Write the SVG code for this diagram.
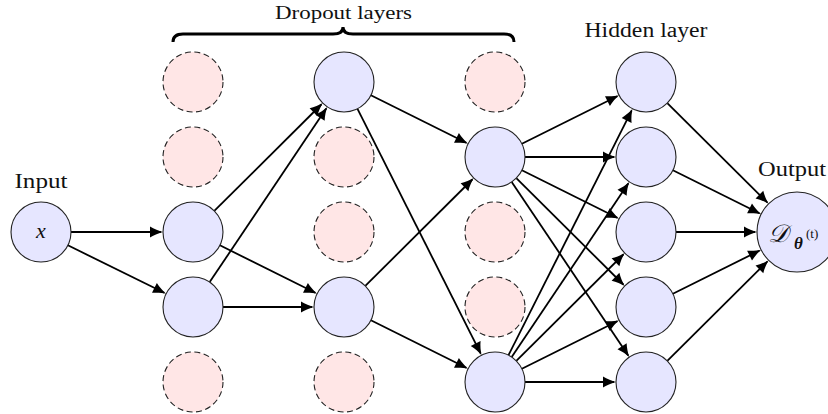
<svg xmlns="http://www.w3.org/2000/svg" width="828" height="414" viewBox="0 0 828 414">
<style>
.n{fill:#e6e6ff;stroke:#222;stroke-width:1.1}
.d{fill:#ffe6e6;stroke:#222;stroke-width:1.1;stroke-dasharray:6 3.5}
.e{stroke:#000;stroke-width:1.8;fill:none;marker-end:url(#ah)}
.t{font-family:"Liberation Serif","Times New Roman","DejaVu Serif",serif;fill:#111}
</style>
<defs>
<marker id="ah" markerUnits="userSpaceOnUse" viewBox="0 -6 14 12" markerWidth="14" markerHeight="12" refX="11" refY="0" orient="auto" overflow="visible">
<path d="M0,-5.5 C4,-3 9,-1 13,0 C9,1 4,3 0,5.5 z" fill="#000"/>
</marker>
</defs>
<rect width="828" height="414" fill="#fff"/>
<g id="brace">
<path d="M173,42 Q173,34 183,34 L333,34 Q343,34 343,27 Q343,34 353,34 L504,34 Q514,34 514,42" fill="none" stroke="#000" stroke-width="3"/>
<text class="t" x="343.5" y="19" font-size="18" text-anchor="middle" textLength="137" lengthAdjust="spacingAndGlyphs">Dropout layers</text>
</g>
<g id="labels">
<text class="t" x="41" y="188" font-size="20" text-anchor="middle" textLength="53" lengthAdjust="spacingAndGlyphs">Input</text>
<text class="t" x="646" y="37" font-size="20" text-anchor="middle" textLength="123" lengthAdjust="spacingAndGlyphs">Hidden layer</text>
<text class="t" x="758" y="176" font-size="20" textLength="68" lengthAdjust="spacingAndGlyphs">Output</text>
</g>
<g id="connectors">
<line class="e" x1="71" y1="232" x2="161" y2="232"/>
<line class="e" x1="67.9" y1="245.3" x2="164.3" y2="292.8"/>
<line class="e" x1="214.3" y1="210.9" x2="321.3" y2="104.5"/>
<line class="e" x1="219.9" y1="245.3" x2="315.3" y2="292.8"/>
<line class="e" x1="209.7" y1="282.1" x2="326.2" y2="108.6"/>
<line class="e" x1="223" y1="307" x2="312" y2="307"/>
<line class="e" x1="370.9" y1="95.3" x2="466.3" y2="142.8"/>
<line class="e" x1="357.5" y1="108.8" x2="480.6" y2="353.4"/>
<line class="e" x1="365.3" y1="285.9" x2="472.3" y2="179.5"/>
<line class="e" x1="370.9" y1="320.3" x2="466.3" y2="367.8"/>
<line class="e" x1="521.9" y1="143.7" x2="617.3" y2="96.2"/>
<line class="e" x1="525" y1="157" x2="614" y2="157"/>
<line class="e" x1="521.9" y1="170.3" x2="617.3" y2="217.8"/>
<line class="e" x1="516.3" y1="178.1" x2="623.3" y2="284.5"/>
<line class="e" x1="511.7" y1="181.9" x2="628.2" y2="355.4"/>
<line class="e" x1="508.5" y1="355.2" x2="631.6" y2="110.6"/>
<line class="e" x1="511.7" y1="357.1" x2="628.2" y2="183.6"/>
<line class="e" x1="516.3" y1="360.9" x2="623.3" y2="254.5"/>
<line class="e" x1="521.9" y1="368.7" x2="617.3" y2="321.2"/>
<line class="e" x1="525" y1="382" x2="614" y2="382"/>
<line class="e" x1="667.3" y1="103.1" x2="767.2" y2="202.4"/>
<line class="e" x1="672.9" y1="170.3" x2="759.4" y2="213.3"/>
<line class="e" x1="676" y1="232" x2="755" y2="232"/>
<line class="e" x1="672.9" y1="293.7" x2="759.4" y2="250.7"/>
<line class="e" x1="667.3" y1="360.9" x2="767.2" y2="261.6"/>
</g>
<g id="input"><circle class="n" cx="41" cy="232" r="30"/><text class="t" x="41" y="238" font-size="22" font-style="italic" text-anchor="middle">x</text></g>
<g id="l1-drop1"><circle class="d" cx="193" cy="82" r="30"/></g>
<g id="l1-drop2"><circle class="d" cx="193" cy="157" r="30"/></g>
<g id="l1-a1"><circle class="n" cx="193" cy="232" r="30"/></g>
<g id="l1-a2"><circle class="n" cx="193" cy="307" r="30"/></g>
<g id="l1-drop5"><circle class="d" cx="193" cy="382" r="30"/></g>
<g id="l2-b1"><circle class="n" cx="344" cy="82" r="30"/></g>
<g id="l2-drop2"><circle class="d" cx="344" cy="157" r="30"/></g>
<g id="l2-drop3"><circle class="d" cx="344" cy="232" r="30"/></g>
<g id="l2-b2"><circle class="n" cx="344" cy="307" r="30"/></g>
<g id="l2-drop5"><circle class="d" cx="344" cy="382" r="30"/></g>
<g id="l3-drop1"><circle class="d" cx="495" cy="82" r="30"/></g>
<g id="l3-c1"><circle class="n" cx="495" cy="157" r="30"/></g>
<g id="l3-drop3"><circle class="d" cx="495" cy="232" r="30"/></g>
<g id="l3-drop4"><circle class="d" cx="495" cy="307" r="30"/></g>
<g id="l3-c2"><circle class="n" cx="495" cy="382" r="30"/></g>
<g id="h1"><circle class="n" cx="646" cy="82" r="30"/></g>
<g id="h2"><circle class="n" cx="646" cy="157" r="30"/></g>
<g id="h3"><circle class="n" cx="646" cy="232" r="30"/></g>
<g id="h4"><circle class="n" cx="646" cy="307" r="30"/></g>
<g id="h5"><circle class="n" cx="646" cy="382" r="30"/></g>
<g id="output">
<circle class="n" cx="797" cy="232" r="40"/>
<text class="t" x="768" y="242" font-size="25" font-style="italic">𝒟</text>
<text class="t" x="794" y="249" font-size="17" font-style="italic" font-weight="bold">θ</text>
<text class="t" x="806" y="238" font-size="13">(t)</text>
</g>
</svg>
